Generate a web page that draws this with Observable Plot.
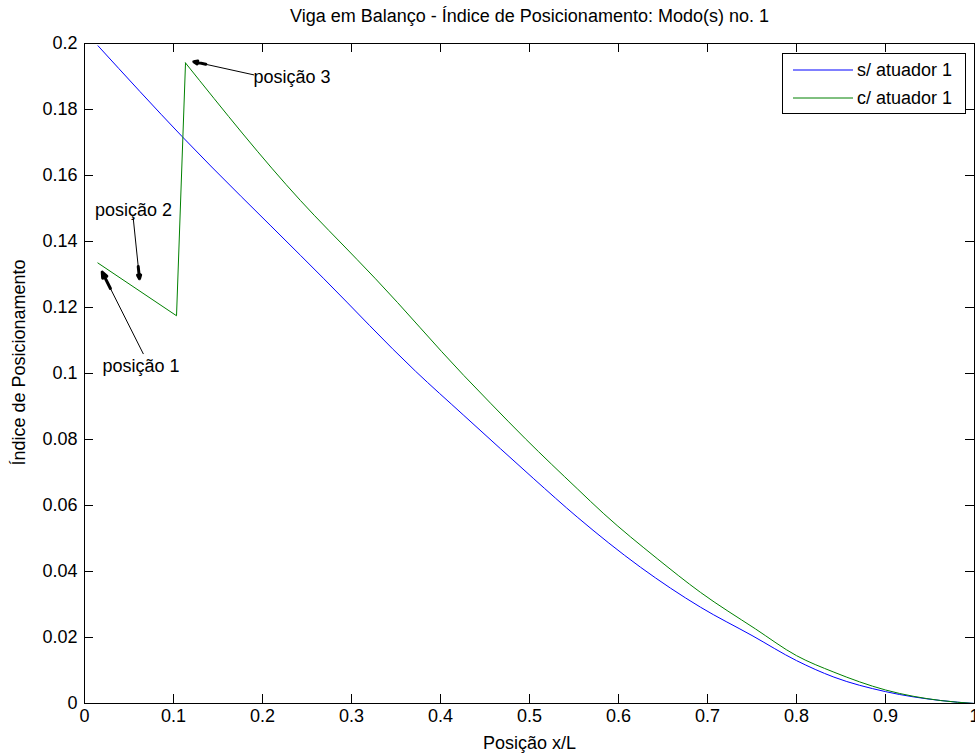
<!DOCTYPE html>
<html>
<head>
<meta charset="utf-8">
<script src="https://cdn.jsdelivr.net/npm/d3@7"></script>
<script src="https://cdn.jsdelivr.net/npm/@observablehq/plot@0.6"></script>
<style>
  body { margin: 0; background: #fff; }
  #wrap { position: relative; width: 975px; height: 756px; font-family: "Liberation Sans", Arial, sans-serif; }
  #legend { position: absolute; left: 782px; top: 53px; width: 184px; height: 61px; border: 1px solid #000; background: #fff; box-sizing: border-box; }
  #legend svg { display: block; }
</style>
</head>
<body>
<div id="wrap"></div>
<script>
// ---- data ----
const title = "Viga em Balanço - Índice de Posicionamento: Modo(s) no. 1";
const xLabel = "Posição x/L";
const yLabel = "Índice de Posicionamento";
const seriesNames = ["s/ atuador 1", "c/ atuador 1"];
const seriesColors = ["#0000ff", "#008000"];

const xTicks = [0, 0.1, 0.2, 0.3, 0.4, 0.5, 0.6, 0.7, 0.8, 0.9, 1];
const xTickLabels = ["0", "0.1", "0.2", "0.3", "0.4", "0.5", "0.6", "0.7", "0.8", "0.9", "1"];
const yTicks = [0, 0.02, 0.04, 0.06, 0.08, 0.1, 0.12, 0.14, 0.16, 0.18, 0.2];
const yTickLabels = ["0", "0.02", "0.04", "0.06", "0.08", "0.1", "0.12", "0.14", "0.16", "0.18", "0.2"];

// s/ atuador 1 (blue)
const blueX = [0.0152, 0.1097, 0.2427, 0.269, 0.3719, 0.4262, 0.4674, 0.5048, 0.5536, 0.6247, 0.692, 0.75, 0.8, 0.842, 0.9, 0.962, 1.0];
const blueY = [0.1993, 0.1718, 0.1358, 0.1287, 0.1007, 0.0873, 0.0772, 0.0681, 0.0565, 0.0413, 0.0292, 0.0206, 0.0130, 0.0080, 0.0036, 0.0009, 0.0];
// c/ atuador 1 (green): first part up to the peak, then the descending part
const greenX = [0.0150, 0.1034, 0.1135, 0.2427, 0.3064, 0.327, 0.4262, 0.4562, 0.4955, 0.5536, 0.5835, 0.6435, 0.692, 0.7539, 0.8, 0.842, 0.9, 0.962, 1.0];
const greenY = [0.1335, 0.1175, 0.1941, 0.1524, 0.1345, 0.1287, 0.0994, 0.0910, 0.0802, 0.0651, 0.0575, 0.0439, 0.0337, 0.0226, 0.0145, 0.0095, 0.0041, 0.0009, 0.0];
const greenPeakIndex = 2;

// annotations: text + arrow (tail -> head)
const annText = ["posição 1", "posição 2", "posição 3"];
const annTextX = [0.0635, 0.055, 0.1899];
const annTextY = [0.1022, 0.1494, 0.1897];
const annAnchor = ["middle", "middle", "start"];
const arrowX1 = [0.066, 0.0547, 0.1901];
const arrowY1 = [0.106, 0.1472, 0.1905];
const arrowX2 = [0.0199, 0.0618, 0.1228];
const arrowY2 = [0.1307, 0.1287, 0.1945];

// ---- build tables ----
const blue = blueX.map((x, i) => ({x, y: blueY[i]}));
const green = greenX.map((x, i) => ({x, y: greenY[i]}));
const greenA = green.slice(0, greenPeakIndex + 1);
const greenB = green.slice(greenPeakIndex);
const notes = annText.map((t, i) => ({t, x: annTextX[i], y: annTextY[i], a: annAnchor[i]}));
const arrows = arrowX1.map((x1, i) => ({x1, y1: arrowY1[i], x2: arrowX2[i], y2: arrowY2[i]}));
const fmtX = d => xTickLabels[xTicks.indexOf(d)];
const fmtY = d => yTickLabels[yTicks.indexOf(d)];

const W = 975, H = 756, mL = 84, mR = 1, mT = 43, mB = 53;
const fw = W - mL - mR, fh = H - mT - mB, tk = 9;
const font = "Liberation Sans, Arial, sans-serif";

const chart = Plot.plot({
  width: W, height: H,
  marginLeft: mL, marginRight: mR, marginTop: mT, marginBottom: mB,
  style: {fontFamily: font, fontSize: "18px", background: "#fff", color: "#000", overflow: "visible"},
  x: {domain: [0, 1]},
  y: {domain: [0, 0.2]},
  marks: [
    Plot.line(blue, {x: "x", y: "y", stroke: seriesColors[0], strokeWidth: 1, curve: "monotone-x"}),
    Plot.line(greenA, {x: "x", y: "y", stroke: seriesColors[1], strokeWidth: 1}),
    Plot.line(greenB, {x: "x", y: "y", stroke: seriesColors[1], strokeWidth: 1, curve: "monotone-x"}),
    Plot.frame({stroke: "#000", strokeWidth: 1}),
    Plot.tickX(xTicks, {x: d => d, insetTop: fh - tk, stroke: "#000"}),
    Plot.tickX(xTicks, {x: d => d, insetBottom: fh - tk, stroke: "#000"}),
    Plot.tickY(yTicks, {y: d => d, insetRight: fw - tk, stroke: "#000"}),
    Plot.tickY(yTicks, {y: d => d, insetLeft: fw - tk, stroke: "#000"}),
    Plot.axisX(xTicks, {tickSize: 0, tickPadding: 6, tickFormat: fmtX, label: null, fontSize: 18}),
    Plot.axisY(yTicks, {tickSize: 0, tickPadding: 7, tickFormat: fmtY, label: null, fontSize: 18}),
    Plot.arrow(arrows, {x1: "x1", y1: "y1", x2: "x2", y2: "y2", stroke: "#000", strokeWidth: 1, headLength: 0}),
    Plot.arrow(arrows, {x1: d => d.x2 + (d.x1 - d.x2) * 0.2, y1: d => d.y2 + (d.y1 - d.y2) * 0.2, x2: "x2", y2: "y2", stroke: "#000", strokeWidth: 3, headLength: 16, headAngle: 45}),
    Plot.text(notes.filter(d => d.a === "middle"), {x: "x", y: "y", text: "t", textAnchor: "middle", fontSize: 18, fill: "#000"}),
    Plot.text(notes.filter(d => d.a === "start"), {x: "x", y: "y", text: "t", textAnchor: "start", fontSize: 18, fill: "#000"}),
    Plot.text([title], {frameAnchor: "top", lineAnchor: "middle", dy: -27, fontSize: 18, fill: "#000"}),
    Plot.text([xLabel], {frameAnchor: "bottom", lineAnchor: "middle", dy: 40, fontSize: 18, fill: "#000"}),
    Plot.text([yLabel], {frameAnchor: "left", textAnchor: "middle", lineAnchor: "middle", dx: -65, dy: -11, rotate: -90, fontSize: 18, fill: "#000"})
  ]
});
document.getElementById("wrap").appendChild(chart);

// legend overlay
const leg = document.createElement("div");
leg.id = "legend";
const svgNS = "http://www.w3.org/2000/svg";
const ls = document.createElementNS(svgNS, "svg");
ls.setAttribute("width", 182); ls.setAttribute("height", 59);
seriesNames.forEach((name, i) => {
  const yy = 16 + i * 28;
  const ln = document.createElementNS(svgNS, "line");
  ln.setAttribute("x1", 10); ln.setAttribute("x2", 70);
  ln.setAttribute("y1", yy); ln.setAttribute("y2", yy);
  ln.setAttribute("stroke", seriesColors[i]); ln.setAttribute("stroke-width", 1);
  ls.appendChild(ln);
  const tx = document.createElementNS(svgNS, "text");
  tx.setAttribute("x", 74); tx.setAttribute("y", yy);
  tx.setAttribute("dy", "0.35em");
  tx.setAttribute("font-family", font); tx.setAttribute("font-size", 18);
  tx.textContent = name;
  ls.appendChild(tx);
});
leg.appendChild(ls);
document.getElementById("wrap").appendChild(leg);
</script>
</body>
</html>
